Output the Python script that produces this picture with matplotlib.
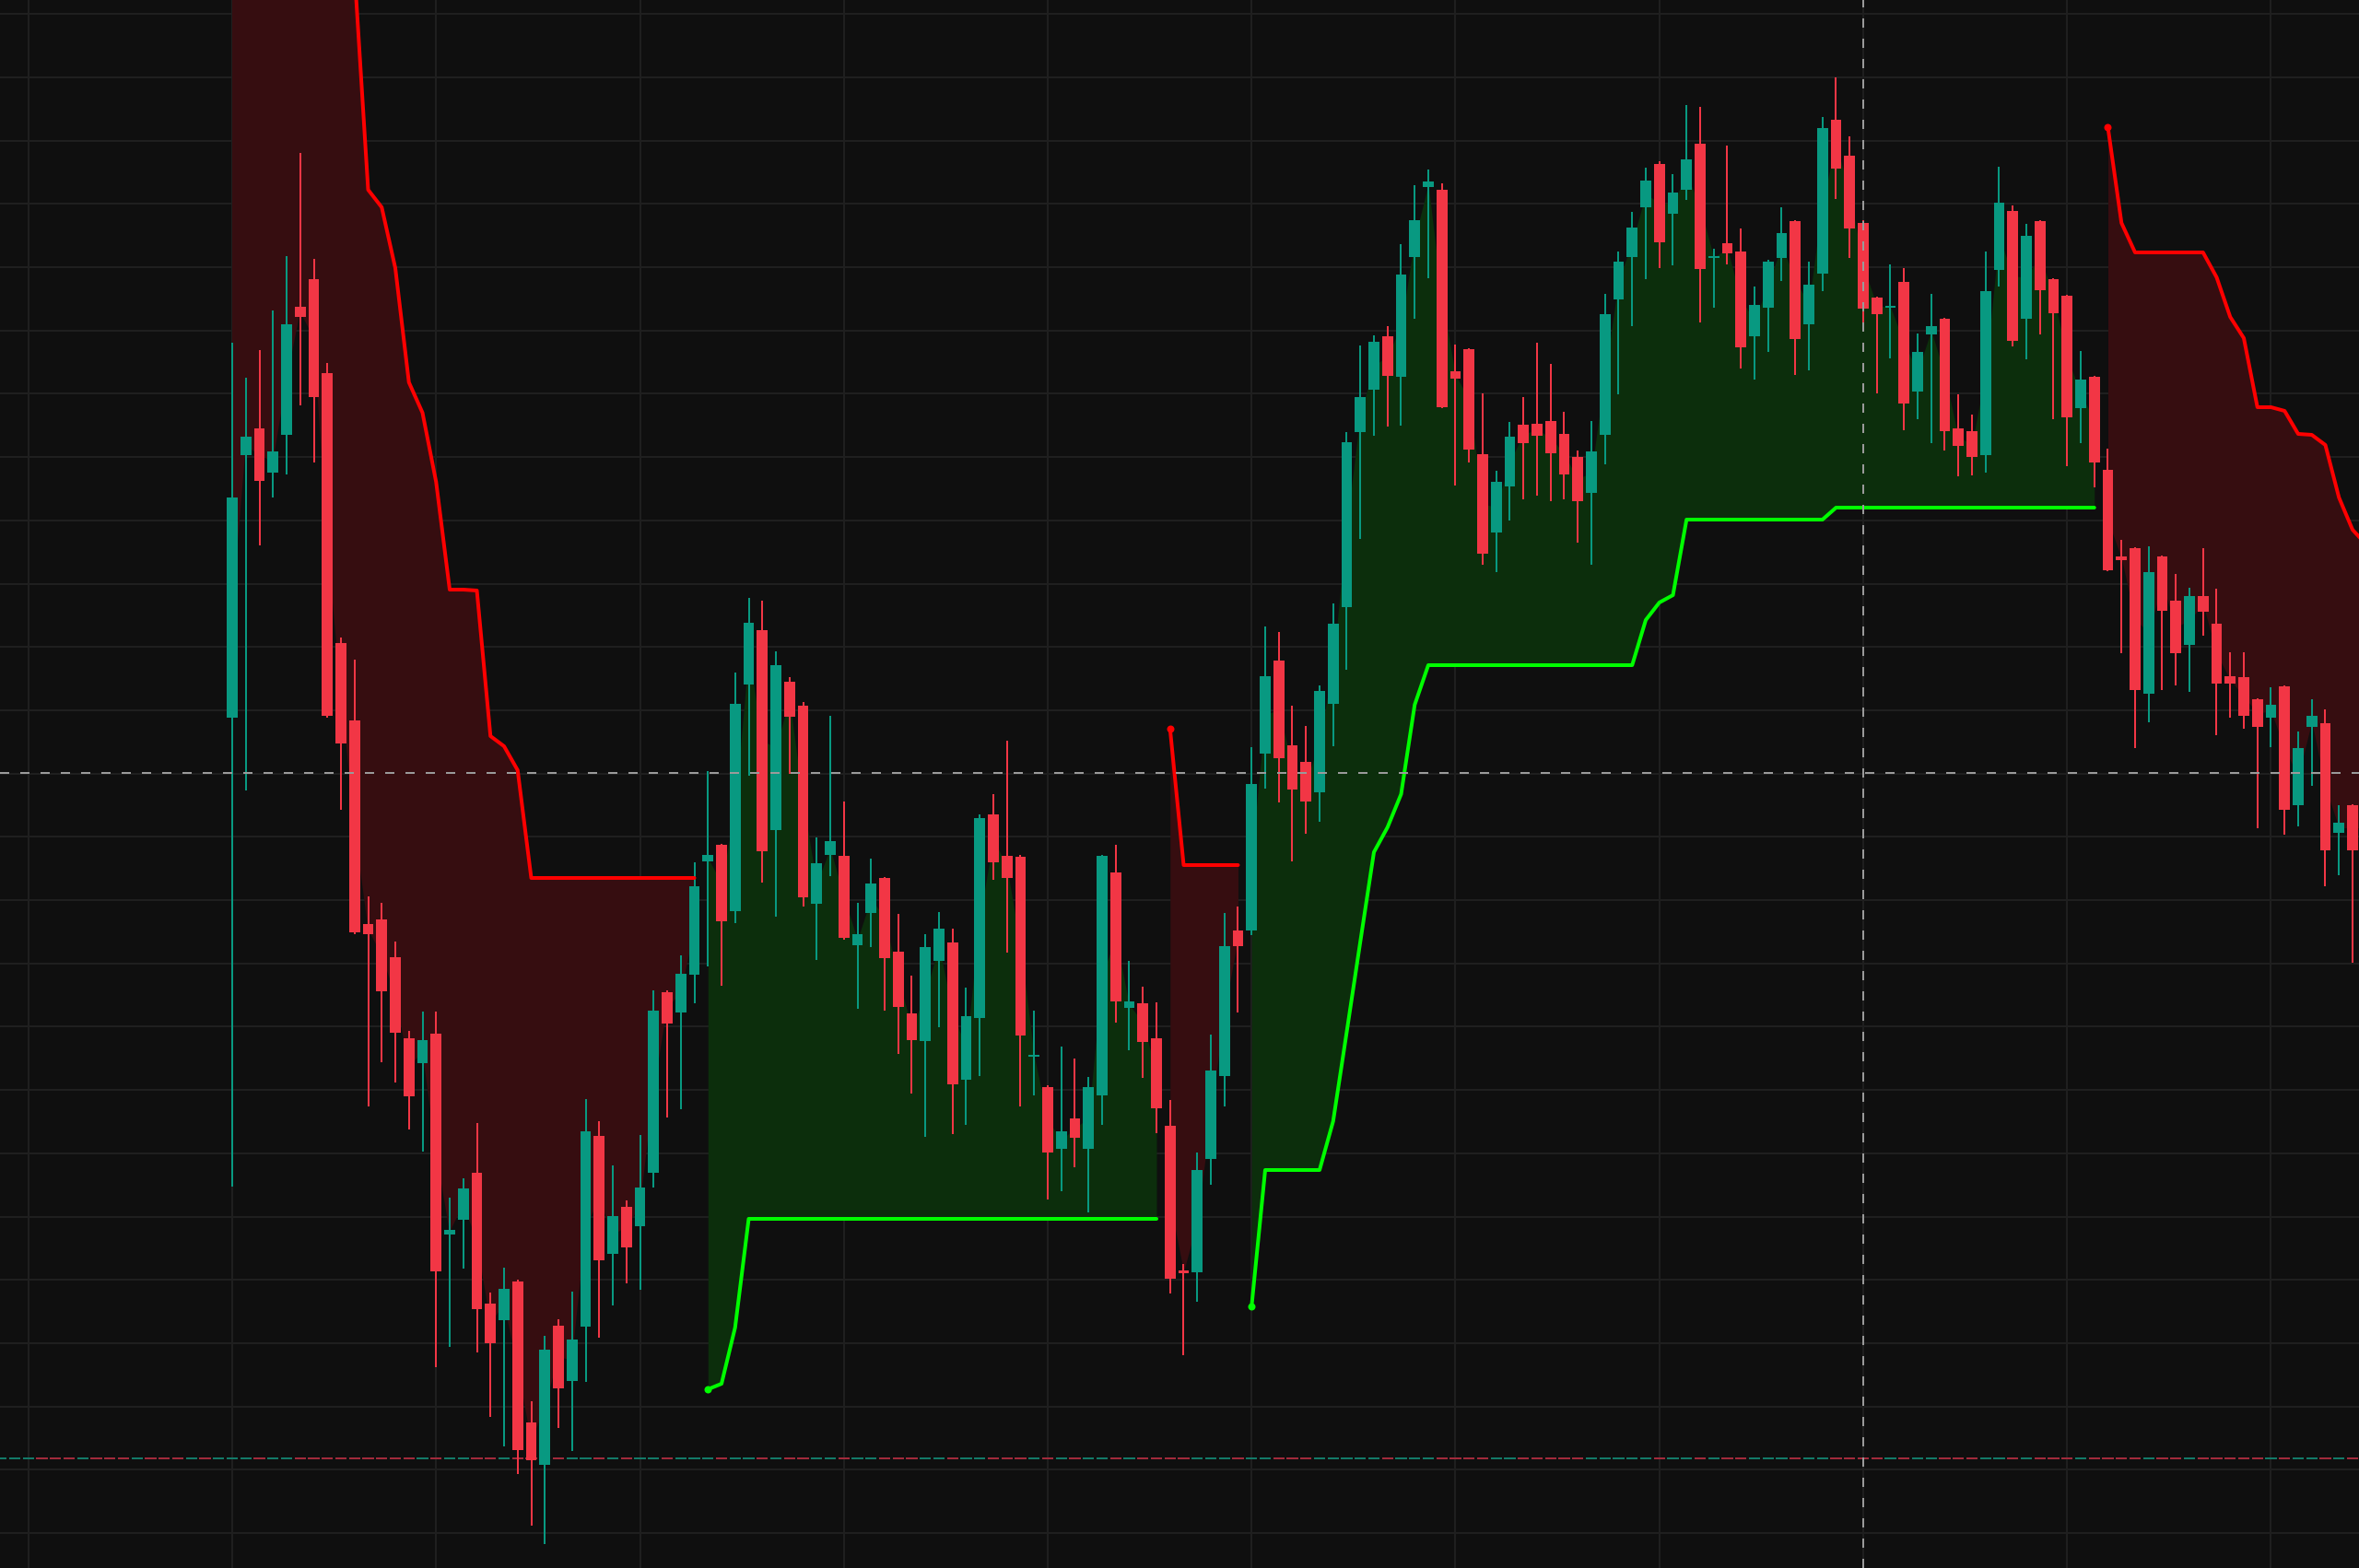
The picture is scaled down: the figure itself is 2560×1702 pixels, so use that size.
import numpy as np
import matplotlib
matplotlib.use("Agg")
import matplotlib.pyplot as plt

# ---------------- data (price units) ----------------
opens = [92.3, 120.8, 123.7, 118.9, 123.0, 136.9, 139.9, 129.7, 100.4, 92.0,
         69.9, 70.4, 66.3, 57.5, 54.8, 58.0, 36.2, 37.8, 42.9, 28.7,
         26.9, 31.1, 15.8, 11.2, 26.3, 20.3, 26.2, 46.9, 34.1, 39.2,
         37.1, 42.9, 62.5, 60.3, 64.4, 76.7, 78.5, 71.3, 95.9, 101.8,
         80.1, 96.2, 93.6, 72.1, 77.4, 77.3, 67.6, 71.1, 74.9, 66.9,
         60.2, 57.2, 65.9, 67.9, 53.0, 59.7, 81.8, 77.3, 77.2, 55.5,
         52.2, 45.5, 48.8, 45.5, 51.3, 75.5, 60.8, 61.3, 57.5, 48.0,
         32.3, 32.1, 44.4, 53.4, 69.2, 69.2, 88.4, 98.5, 89.3, 87.5,
         84.2, 93.8, 104.3, 123.3, 127.9, 133.7, 129.3, 142.3, 149.9, 149.6,
         129.9, 132.3, 120.9, 112.4, 117.4, 124.1, 124.2, 124.5, 123.1, 120.6,
         116.7, 123.0, 137.7, 142.3, 147.7, 152.4, 147.0, 149.6, 154.6, 142.2,
         143.8, 142.9, 133.7, 136.8, 142.2, 146.2, 135.0, 140.5, 157.2, 153.3,
         146.0, 137.9, 136.8, 139.6, 127.7, 133.9, 135.6, 123.7, 123.4, 120.8,
         140.9, 147.3, 135.6, 146.2, 139.9, 138.1, 125.9, 129.3, 119.2, 109.8,
         110.7, 94.9, 109.8, 105.0, 100.2, 105.5, 102.5, 96.8, 96.7, 94.3,
         92.3, 95.7, 82.8, 91.3, 91.7, 79.8, 82.8]
highs = [133.0, 129.2, 132.2, 136.5, 142.4, 153.6, 142.1, 130.8, 101.0, 98.6,
         72.9, 72.2, 68.0, 58.3, 60.4, 60.4, 40.2, 42.3, 48.3, 29.9,
         32.6, 31.3, 18.1, 25.2, 27.0, 30.0, 50.9, 48.5, 43.7, 39.9,
         47.0, 62.7, 62.7, 66.5, 76.6, 86.5, 78.6, 97.2, 105.3, 105.0,
         99.5, 96.7, 94.0, 79.3, 92.5, 83.2, 72.2, 77.0, 75.0, 71.0,
         64.3, 68.8, 71.2, 69.4, 63.0, 81.8, 84.0, 89.8, 77.4, 60.5,
         52.4, 56.6, 55.3, 53.3, 77.4, 78.5, 65.9, 63.1, 61.4, 50.8,
         33.0, 45.1, 57.9, 71.1, 71.8, 89.1, 102.2, 101.6, 93.6, 91.4,
         95.8, 104.7, 123.3, 132.7, 133.8, 134.8, 143.7, 150.1, 151.8, 150.3,
         132.8, 132.4, 127.5, 119.1, 124.4, 127.1, 133.0, 130.7, 125.5, 121.3,
         124.5, 138.3, 142.9, 147.2, 152.0, 152.7, 151.3, 158.8, 158.6, 143.2,
         154.4, 145.4, 139.1, 142.0, 147.7, 146.3, 141.8, 157.5, 161.8, 155.4,
         146.3, 138.0, 141.5, 141.1, 134.0, 138.3, 135.7, 127.4, 125.2, 142.9,
         152.1, 147.9, 145.9, 146.3, 140.0, 138.2, 132.1, 129.4, 121.5, 111.6,
         110.8, 110.9, 109.9, 107.9, 106.4, 110.7, 106.3, 99.4, 99.4, 94.4,
         95.6, 95.8, 90.8, 94.3, 93.2, 82.8, 82.9]
lows = [41.4, 84.4, 111.0, 116.2, 118.7, 126.2, 120.0, 92.3, 82.3, 68.8,
        50.1, 54.9, 52.7, 47.6, 45.2, 21.8, 24.0, 32.5, 23.4, 16.4,
        13.2, 10.2, 4.6, 2.6, 15.2, 12.7, 20.2, 25.0, 28.5, 30.9,
        30.2, 41.3, 48.9, 49.8, 61.3, 65.3, 63.2, 70.0, 86.0, 74.4,
        70.7, 86.2, 71.8, 66.0, 75.1, 68.2, 60.7, 67.4, 60.5, 55.8,
        51.5, 46.8, 58.7, 47.1, 48.1, 53.4, 74.7, 66.8, 50.1, 51.3,
        40.0, 40.9, 43.5, 38.6, 48.1, 59.2, 56.2, 53.2, 47.2, 29.8,
        23.1, 28.9, 41.6, 50.1, 60.3, 68.7, 84.6, 83.1, 76.7, 79.7,
        81.0, 89.2, 97.5, 111.7, 122.9, 123.9, 124.0, 135.6, 140.0, 125.9,
        117.5, 120.0, 108.9, 108.1, 113.7, 116.0, 116.4, 115.8, 116.0, 111.3,
        108.9, 119.8, 127.4, 134.8, 139.9, 141.1, 141.4, 148.5, 135.2, 136.8,
        141.5, 130.2, 129.0, 132.0, 139.7, 129.5, 130.0, 138.6, 148.6, 142.2,
        134.2, 127.5, 131.3, 123.5, 124.7, 122.1, 121.3, 118.5, 118.6, 118.9,
        139.1, 132.6, 131.2, 133.9, 124.7, 119.6, 122.1, 117.3, 108.2, 99.3,
        89.0, 91.8, 95.3, 95.8, 95.1, 101.2, 90.4, 92.3, 91.1, 80.3,
        89.1, 79.6, 80.5, 84.9, 74.0, 75.2, 65.7]
closes = [116.2, 122.8, 118.0, 121.2, 135.0, 135.8, 127.1, 92.5, 89.5, 69.0,
          68.8, 62.6, 58.1, 51.2, 57.3, 32.2, 36.7, 41.2, 28.1, 24.4,
          30.3, 12.8, 11.7, 23.7, 19.5, 24.8, 47.4, 33.4, 38.2, 34.8,
          41.3, 60.5, 59.1, 64.5, 74.0, 77.4, 70.2, 93.8, 102.6, 77.8,
          98.0, 92.4, 72.8, 76.5, 78.9, 68.4, 68.8, 74.3, 66.2, 60.9,
          57.3, 67.4, 69.4, 52.5, 59.9, 81.4, 76.6, 74.9, 57.8, 55.7,
          45.1, 47.4, 46.7, 52.2, 77.3, 61.5, 61.5, 57.1, 49.9, 31.4,
          32.0, 43.2, 54.0, 67.5, 67.5, 85.1, 96.8, 87.9, 84.5, 83.2,
          95.2, 102.5, 122.2, 127.1, 133.1, 129.4, 140.4, 146.3, 150.5, 126.0,
          129.1, 121.4, 110.1, 117.9, 122.8, 122.1, 122.9, 121.0, 118.7, 115.8,
          121.2, 136.1, 141.8, 145.5, 150.6, 143.9, 149.3, 152.9, 141.0, 142.3,
          142.7, 132.5, 137.1, 141.8, 144.9, 133.4, 139.3, 156.3, 151.9, 145.4,
          136.7, 136.1, 137.0, 126.4, 132.0, 134.8, 123.4, 121.8, 120.6, 138.6,
          148.2, 133.2, 144.6, 138.7, 136.2, 124.9, 129.0, 120.0, 108.3, 109.4,
          95.3, 108.1, 103.9, 99.3, 105.5, 103.8, 96.0, 96.0, 92.5, 91.3,
          93.7, 82.3, 89.0, 92.5, 77.9, 80.9, 77.9]

# Supertrend line (one value per bar, plus the next bar just past the right edge)
st_values = ([192.0, 192.0, 190.0, 188.0, 186.0, 184.0, 182.0, 180.0, 178.0, 173.2,
              149.6, 147.7, 141.1, 128.7, 125.4, 117.9, 106.2, 106.2, 106.1, 90.3,
              89.2, 86.6] + [74.9] * 13 +
             [19.4, 20.0, 26.1] + [37.9] * 31 +
             [91.1] + [76.3] * 5 +
             [28.4] + [43.2] * 5 + [48.5, 58.2, 68.0, 77.7, 80.4, 84.0, 93.7] +
             [98.0] * 16 + [102.9, 104.8, 105.6] + [113.8] * 11 + [115.1] * 20 +
             [156.4, 146.0] + [142.8] * 6 +
             [140.1, 135.8, 133.5, 126.0, 126.0, 125.6, 123.1, 123.0, 121.9, 116.2, 112.7,
              111.1])
st_runs = [(-1, 35), (1, 34), (-1, 6), (1, 63), (-1, 20)]

# bottom dashed line: colours of the off-screen bars before bar 0
ref_price = 11.9
pre_dirs = "GGGRRRGRRRGRRRGRG"
# crosshair
cross_price = 86.3
cross_bar = 120

# ---------------- drawing ----------------
PX = 0.72  # points per pixel at dpi 100
bg = '#0f0f0f'
grid_c = '#1f1f1f'
up_c = '#089981'
dn_c = '#f23645'

fig = plt.figure(figsize=(25.6, 17.02), dpi=100)
fig.patch.set_facecolor(bg)
ax = fig.add_axes([0, 0, 1, 1])
ax.set_facecolor(bg)
ax.set_xlim(-17.085, 156.475)
ax.set_ylim(0, 170.2)
ax.axis('off')

# grid
for gx in range(-15, 160, 15):
    ax.axvline(gx, color=grid_c, lw=2 * PX, zorder=0)
for k in range(25):
    ax.axhline(168.68 - 6.87 * k, color=grid_c, lw=2 * PX, zorder=0)

o = np.array(opens); c = np.array(closes)
h = np.array(highs); l = np.array(lows)
n = len(o)
xs = np.arange(n)
mid = (o + c) / 2
st = np.array(st_values)
mid_ext = np.append(mid, mid[-1])  # fill reference for the bar beyond the edge

# supertrend fills & lines
start = 0
for d, length in st_runs:
    seg = np.arange(start, start + length)
    lc = '#ff0000' if d < 0 else '#00ff00'
    fc = '#360d10' if d < 0 else '#0c2e0c'
    ax.fill_between(seg, st[seg], mid_ext[seg], color=fc, linewidth=0, zorder=1)
    ax.plot(seg, st[seg], color=lc, lw=4 * PX, zorder=4, solid_joinstyle='round',
            solid_capstyle='round')
    if start > 0:
        ax.plot([seg[0]], [st[seg[0]]], 'o', color=lc, ms=8 * PX, mew=0, zorder=4)
    start += length

# bottom dashed reference line coloured by bar direction
dash_up = '#137a68'
dash_dn = '#a12a3b'
pre = [dash_up if ch == 'G' else dash_dn for ch in pre_dirs]
bar_cols = [dash_up if c[i] >= o[i] else dash_dn for i in range(n)]
all_cols = pre + bar_cols
for j, colr in enumerate(all_cols):
    xi = j - len(pre)
    ax.hlines(ref_price, xi - 0.42, xi + 0.42, color=colr, lw=2 * PX, zorder=2)

# candles
cols = [up_c if c[i] >= o[i] else dn_c for i in range(n)]
ax.vlines(xs, l, h, colors=cols, lw=2 * PX, zorder=3)
bottoms = np.minimum(o, c)
heights = np.maximum(np.abs(c - o), 0.2)
ax.bar(xs, heights, bottom=bottoms, width=0.8, color=cols, linewidth=0, zorder=3)

# crosshair
ax.axhline(cross_price, color='#9a9a9a', lw=2 * PX, ls=(0, (5, 6)), zorder=5)
ax.axvline(cross_bar, color='#9a9a9a', lw=2 * PX, ls=(0, (5, 6)), zorder=5)

fig.savefig('out.png', dpi=100, facecolor=bg)
